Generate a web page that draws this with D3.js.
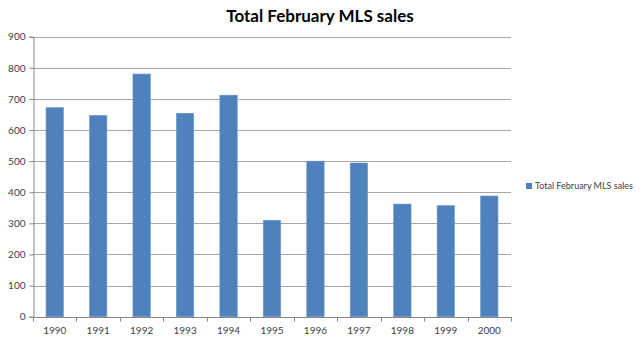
<!DOCTYPE html>
<html>
<head>
<meta charset="utf-8">
<script src="https://cdn.jsdelivr.net/npm/d3@7"></script>
<style>
  html, body { margin: 0; padding: 0; background: #fff; }
  svg { display: block; font-family: Lato, "Open Sans", sans-serif; }
</style>
</head>
<body>
<svg id="chart" width="640" height="343"></svg>
<script>
// February MLS sales by year
const years = ["1990","1991","1992","1993","1994","1995","1996","1997","1998","1999","2000"];
const sales = [672, 647, 780, 654, 712, 310, 500, 494, 362, 357, 388];
const yTicks = [0, 100, 200, 300, 400, 500, 600, 700, 800, 900];
const seriesName = "Total February MLS sales";

const svg = d3.select("#chart");
const plotLeft = 33, plotRight = 511, plotTop = 36.7, plotBottom = 316.7;

const x = d3.scaleBand().domain(years).range([plotLeft, plotRight]).paddingInner(0.6).paddingOuter(0.3);
const y = d3.scaleLinear().domain([0, 900]).range([plotBottom, plotTop]);

// gridlines
svg.append("g").selectAll("line").data(yTicks.filter(d => d > 0)).join("line")
  .attr("x1", plotLeft).attr("x2", plotRight)
  .attr("y1", d => Math.round(y(d)) + 0.5).attr("y2", d => Math.round(y(d)) + 0.5)
  .attr("stroke", "#a6a6a6").attr("stroke-width", 1);

// bars
svg.append("g").selectAll("rect").data(sales).join("rect")
  .attr("x", (d, i) => x(years[i]))
  .attr("y", d => y(d))
  .attr("width", x.bandwidth())
  .attr("height", d => plotBottom - y(d))
  .attr("fill", "#4f81bd")
  .attr("stroke", "#6f96c8").attr("stroke-width", 0.6);

// y axis
const yAxis = d3.axisLeft(y).tickValues(yTicks).tickSize(4).tickPadding(4);
const gy = svg.append("g").attr("transform", `translate(${plotLeft + 0.5},0)`).call(yAxis);
gy.select(".domain").attr("stroke", "#868686");
gy.selectAll(".tick line").attr("stroke", "#868686");
gy.selectAll(".tick text").attr("fill", "#404040").style("font-size", "10px").attr("font-family", "Lato, 'Open Sans', sans-serif");

// x axis: ticks at category boundaries, labels centred under bars
const gx = svg.append("g").attr("transform", `translate(0,${Math.round(plotBottom) + 0.5})`);
gx.append("line").attr("x1", plotLeft).attr("x2", plotRight + 1).attr("stroke", "#868686");
const step = (plotRight - plotLeft) / years.length;
gx.selectAll("line.tk").data(d3.range(years.length + 1)).join("line")
  .attr("class", "tk")
  .attr("x1", i => Math.round(plotLeft + i * step) + 0.5).attr("x2", i => Math.round(plotLeft + i * step) + 0.5)
  .attr("y1", 0).attr("y2", 4).attr("stroke", "#868686");
gx.selectAll("text").data(years).join("text")
  .attr("x", d => x(d) + x.bandwidth() / 2)
  .attr("y", 16)
  .attr("text-anchor", "middle")
  .attr("fill", "#404040")
  .style("font-size", "10px")
  .text(d => d);

// title
svg.append("text")
  .attr("x", 320).attr("y", 22)
  .attr("text-anchor", "middle")
  .attr("font-weight", "bold")
  .style("font-size", "17px")
  .attr("fill", "#000")
  .text("Total February MLS sales");

// legend
svg.append("rect").attr("x", 526).attr("y", 183).attr("width", 6).attr("height", 6).attr("fill", "#4f81bd");
svg.append("text").attr("x", 535).attr("y", 189)
  .attr("fill", "#404040").style("font-size", "9px")
  .text(seriesName);
</script>
</body>
</html>
